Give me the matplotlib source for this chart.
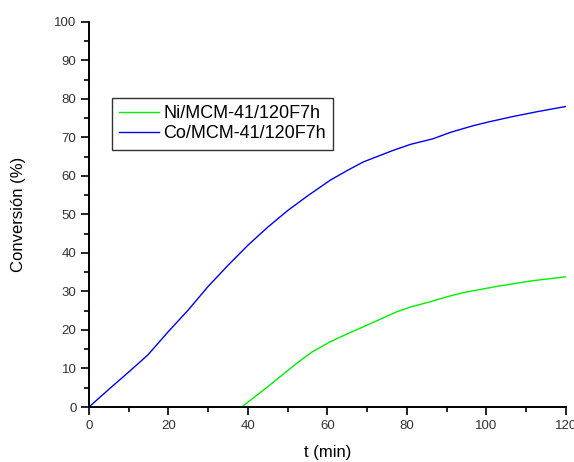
import matplotlib.pyplot as plt
from matplotlib.ticker import MultipleLocator

plt.rcParams["font.family"] = ["Liberation Sans", "DejaVu Sans"]

# Conversion curves read at intervals (t in min, conversion in %)
t_co = [0, 5, 9.8, 14.8, 19.9, 24.9, 29.9, 35, 40, 45, 50, 55, 60.6, 65, 69, 76.5, 81, 86.5,
        91, 96.6, 101, 106.7, 113, 120]
conv_co = [0, 4.6, 8.9, 13.5, 19.5, 25.1, 31.2, 36.8, 42, 46.7, 51, 54.8, 58.8, 61.4, 63.6, 66.6,
           68.2, 69.6, 71.3, 73, 74.1, 75.4, 76.7, 78]

t_ni = [38.4, 45.5, 52.2, 56, 60.6, 65, 69, 77.4, 81, 85.8, 90, 94.2, 102.6, 111, 120]
conv_ni = [0, 5.7, 11.3, 14.2, 16.9, 19.0, 20.8, 24.7, 26.0, 27.3, 28.6, 29.7, 31.3, 32.7, 33.8]

labels = ["Ni/MCM-41/120F7h", "Co/MCM-41/120F7h"]
colors = ["#00ee00", "#0000ee"]

fig = plt.figure(figsize=(5.74, 4.62), dpi=100)
ax = fig.add_axes([0.155, 0.119, 0.831, 0.834])

ax.plot(t_ni, conv_ni, color=colors[0], lw=1.0, label=labels[0])
ax.plot(t_co, conv_co, color=colors[1], lw=1.0, label=labels[1])

ax.set_xlim(0, 120)
ax.set_ylim(0, 100)
ax.xaxis.set_major_locator(MultipleLocator(20))
ax.xaxis.set_minor_locator(MultipleLocator(10))
ax.yaxis.set_major_locator(MultipleLocator(10))
ax.yaxis.set_minor_locator(MultipleLocator(5))

for side in ("top", "right"):
    ax.spines[side].set_visible(False)
for side in ("left", "bottom"):
    ax.spines[side].set_linewidth(1.4)

ax.tick_params(which="major", direction="out", length=6, width=1.2,
               labelsize=9.5, labelcolor="#333333", pad=3)
ax.tick_params(which="minor", direction="out", length=3.5, width=1.2)

ax.set_xlabel("t (min)", fontsize=12, labelpad=10)
ax.set_ylabel("Conversión (%)", fontsize=12, labelpad=20)

leg = ax.legend(loc="upper left", bbox_to_anchor=(0.048, 0.803), borderaxespad=0,
                fontsize=13, frameon=True, fancybox=False,
                handlelength=2.2, borderpad=0.4, labelspacing=0.2, handletextpad=0.25)
leg.get_frame().set_edgecolor("black")
leg.get_frame().set_linewidth(1.0)

fig.savefig("out.png", dpi=100)
